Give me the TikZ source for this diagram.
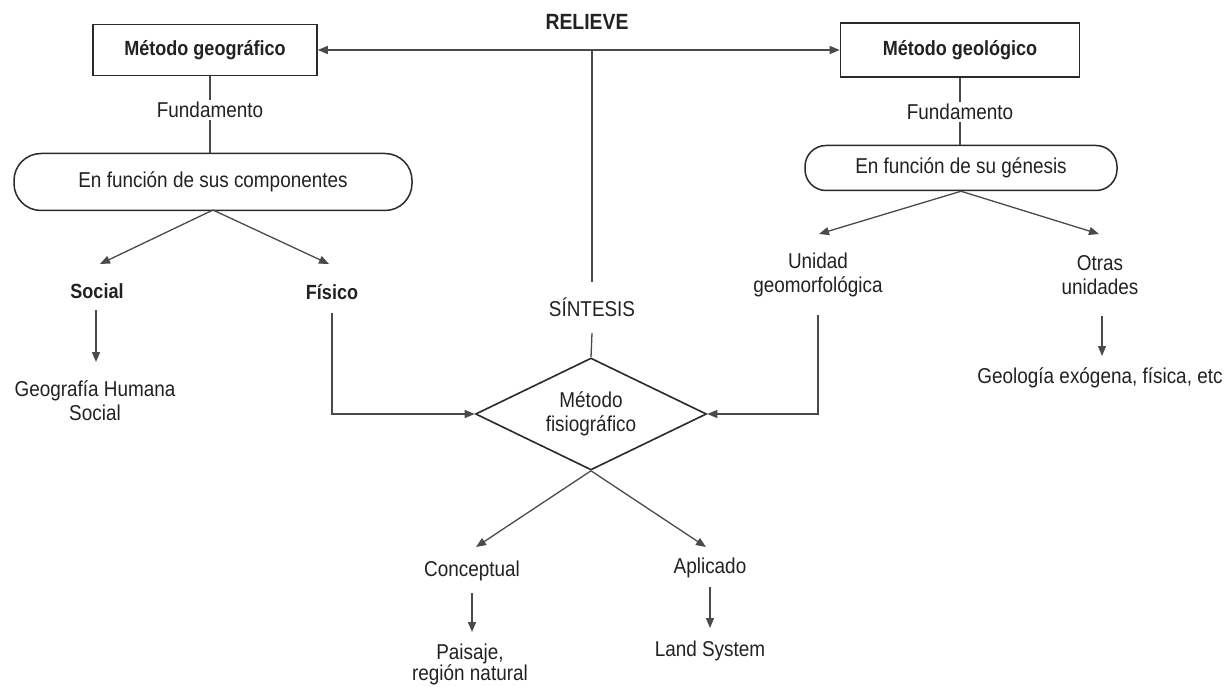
\documentclass[tikz,border=0pt]{standalone}
\usepackage{fontspec}
\setmainfont[FakeStretch=0.88]{Liberation Sans}
\usetikzlibrary{arrows.meta,shapes.geometric}
\definecolor{txt}{HTML}{222222}
\definecolor{ln}{HTML}{4A4A4A}
\definecolor{bd}{HTML}{2A2A2A}
\tikzset{
  lbl/.style={text=txt,font=\fontsize{21.5}{24}\selectfont,align=center,inner sep=2pt},
  blbl/.style={lbl,font=\fontsize{20.5}{24}\selectfont\bfseries},
  boxn/.style={draw=bd,line width=1.6pt,text=txt,font=\fontsize{20.5}{24}\selectfont\bfseries,inner sep=0pt},
  pill/.style={draw=bd,line width=1.5pt,rounded corners=20pt,text=txt,font=\fontsize{21.5}{24}\selectfont,inner sep=0pt},
  conn/.style={draw=ln,line width=1.3pt},
  arr/.style={conn,-{Triangle[length=10pt,width=8pt]}},
  darr/.style={conn,{Triangle[length=10pt,width=8pt]}-{Triangle[length=10pt,width=8pt]}},
}
\begin{document}
\begin{tikzpicture}[x=1pt,y=-1pt]
\useasboundingbox[fill=white] (0,0) rectangle (1229,687);
% top
\node[blbl,font=\fontsize{22}{26}\selectfont\bfseries] (relieve) at (587,22) {RELIEVE};
\node[boxn,minimum width=224pt,minimum height=51pt] (geo) at (205,50) {Método geográfico};
\node[boxn,minimum width=239pt,minimum height=54pt] (geol) at (960,50) {Método geológico};
\draw[darr] (geo.east) -- (geol.west);
\coordinate (rc) at (592,51);
% left branch
\node[lbl] (fund1) at (210,110) {Fundamento};
\node[pill,minimum width=398pt,minimum height=57pt,rounded corners=27pt] (comp) at (213,182) {En función de sus componentes};
\draw[conn] (geo.south -| fund1) -- (fund1.north);
\draw[conn] (fund1.south) -- (fund1.south |- comp.north);
\node[blbl] (social) at (97,291) {Social};
\node[blbl] (fisico) at (332,292) {Físico};
\coordinate (compb) at (213,210);
\draw[arr] (compb) -- (100,264);
\draw[arr] (compb) -- (329,264);
\node[lbl] (ghs) at (95,401) {Geografía Humana\\Social};
\coordinate (soct) at (96,310);
\coordinate (socb) at (96,362);
\draw[arr] (soct) -- (socb);
% right branch
\node[lbl] (fund2) at (960,112) {Fundamento};
\node[pill,minimum width=312pt,minimum height=45pt,rounded corners=21pt] (gen) at (961,168) {En función de su génesis};
\draw[conn] (geol.south) -- (fund2.north);
\draw[conn] (fund2.south) -- (fund2.south |- gen.north);
\node[lbl] (unidad) at (818,275) {Unidad\\geomorfológica};
\node[lbl] (otras) at (1100,275) {Otras\\unidades};
\draw[arr] (gen.south) -- (819,234);
\draw[arr] (gen.south) -- (1099,234);
\node[lbl] (geolo) at (1100,378) {Geología exógena, física, etc};
\coordinate (otrt) at (1102,316);
\coordinate (otrb) at (1102,356);
\draw[arr] (otrt) -- (otrb);
% centre
\node[lbl] (sint) at (592,307) {SÍNTESIS};
\draw[conn] (rc) -- (592,282);
\node[draw=bd,line width=1.6pt,shape=diamond,minimum width=231pt,minimum height=112pt,inner sep=0pt,aspect=2,text=txt,font=\fontsize{21.5}{24}\selectfont,align=center] (dia) at (591,414) {Método\\fisiográfico};
\draw[conn] (592,333) -- (dia.north);
\coordinate (fist) at (332,313);
\coordinate (fisb) at (332,414);
\draw[arr] (fist) -- (fisb) -- (dia.west);
\coordinate (unit) at (818,315);
\coordinate (unib) at (818,414);
\draw[arr] (unit) -- (unib) -- (dia.east);
% bottom
\node[lbl] (concept) at (472,571) {Conceptual};
\node[lbl] (aplic) at (710,568) {Aplicado};
\draw[arr] (dia.south) -- (476,547);
\draw[arr] (dia.south) -- (706,547);
\node[lbl,font=\fontsize{21.5}{21}\selectfont,inner sep=0pt] (paisaje) at (470,664) {Paisaje,\\región natural};
\node[lbl] (land) at (710,651) {Land System};
\coordinate (cont) at (472,593);
\coordinate (conb) at (472,632);
\draw[arr] (cont) -- (conb);
\coordinate (aplt) at (710,587);
\coordinate (aplb) at (710,628);
\draw[arr] (aplt) -- (aplb);
\end{tikzpicture}
\end{document}
